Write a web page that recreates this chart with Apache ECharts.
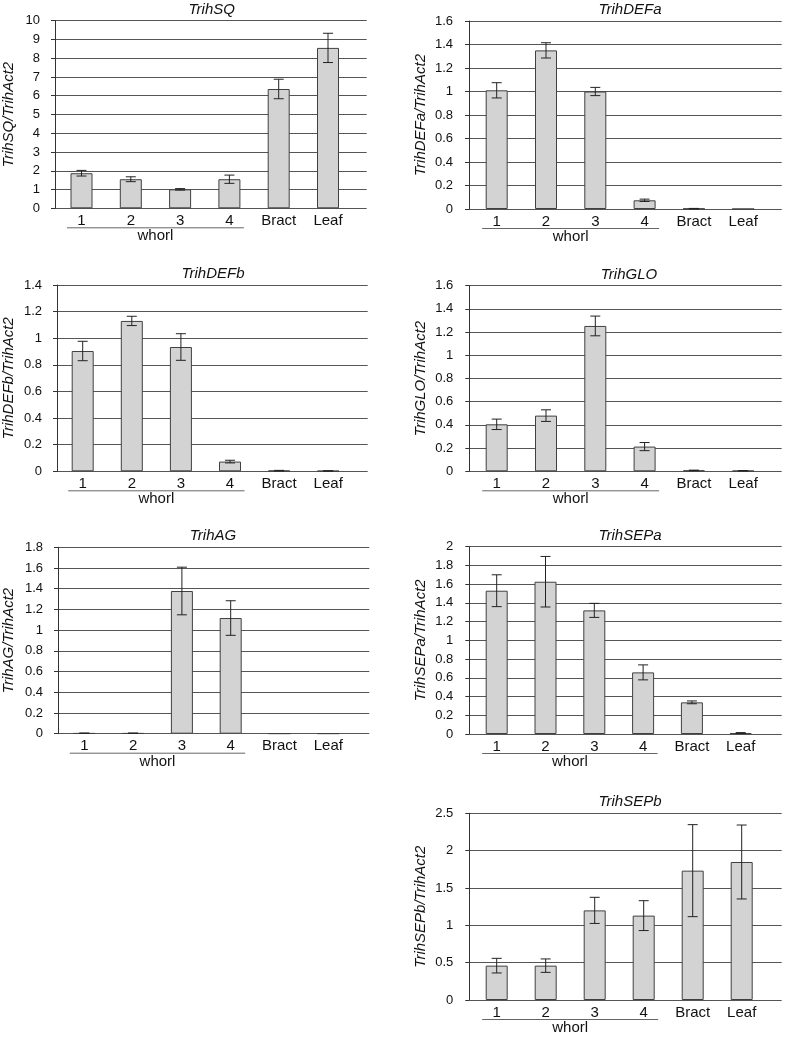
<!DOCTYPE html>
<html><head><meta charset="utf-8">
<script src="https://cdn.jsdelivr.net/npm/echarts@6/dist/echarts.min.js"></script>
<style>html,body{margin:0;padding:0;background:#fff}#c{width:787px;height:1037px}</style>
</head><body><div id="c"></div><script>
// ---------- DATA ----------
const categories = ['1', '2', '3', '4', 'Bract', 'Leaf'];
const genes = ['TrihSQ', 'TrihDEFa', 'TrihDEFb', 'TrihGLO', 'TrihAG', 'TrihSEPa', 'TrihSEPb'];
const groupLabel = 'whorl';
const refGene = 'TrihAct2';

const sqValues    = [1.87, 1.55, 1.01, 1.55, 6.36, 8.55];
const sqErrors    = [0.15, 0.13, 0.04, 0.22, 0.52, 0.78];
const defaValues  = [1.01, 1.35, 1.00, 0.074, 0.003, 0];
const defaErrors  = [0.065, 0.065, 0.035, 0.01, 0.002, 0];
const defbValues  = [0.904, 1.13, 0.934, 0.073, 0.005, 0.003];
const defbErrors  = [0.073, 0.035, 0.10, 0.01, 0.002, 0.001];
const gloValues   = [0.405, 0.48, 1.253, 0.213, 0.008, 0.005];
const gloErrors   = [0.045, 0.05, 0.085, 0.035, 0.002, 0.001];
const agValues    = [0.005, 0.005, 1.378, 1.117, 0.002, 0.002];
const agErrors    = [0.001, 0.001, 0.23, 0.167, 0, 0];
const sepaValues  = [1.53, 1.626, 1.32, 0.658, 0.338, 0.01];
const sepaErrors  = [0.17, 0.27, 0.075, 0.08, 0.015, 0.005];
const sepbValues  = [0.46, 0.46, 1.20, 1.13, 1.732, 1.848];
const sepbErrors  = [0.098, 0.09, 0.175, 0.2, 0.616, 0.495];

const allValues = [sqValues, defaValues, defbValues, gloValues, agValues, sepaValues, sepbValues];
const allErrors = [sqErrors, defaErrors, defbErrors, gloErrors, agErrors, sepaErrors, sepbErrors];
const yMaxes = [10, 1.6, 1.4, 1.6, 1.8, 2, 2.5];
const yIntervals = [1, 0.2, 0.2, 0.2, 0.2, 0.2, 0.5];

// ---------- LAYOUT (pixels) ----------
const layout = [
  {axisX: 53.3, right: 366.7, top: 20.7, zero: 208.3, c0: 81.5, sp: 49.3, lm: 15, ng: 39, tx: 211.7},
  {axisX: 469,  right: 781.7, top: 21,   zero: 209,   c0: 496.7, sp: 49.3, lm: 16, ng: 41, tx: 630},
  {axisX: 55,   right: 367.7, top: 285,  zero: 471.3, c0: 82.7, sp: 49.1, lm: 15, ng: 41, tx: 213},
  {axisX: 469.3,right: 781.7, top: 285.7,zero: 471.3, c0: 496.7, sp: 49.3, lm: 16, ng: 41, tx: 629},
  {axisX: 56,   right: 369.3, top: 547.3,zero: 733.7, c0: 84.3, sp: 48.8, lm: 15, ng: 42, tx: 213},
  {axisX: 469.3,right: 781.7, top: 546.7,zero: 734,   c0: 496.7, sp: 48.8, lm: 16, ng: 41, tx: 630},
  {axisX: 469.3,right: 781.7, top: 813.3,zero: 1000,  c0: 496.7, sp: 49.0, lm: 16, ng: 41, tx: 630}
];
const FONT = '"Liberation Sans", Arial, Helvetica, sans-serif';
const TXT = '#111';

const chart = echarts.init(document.getElementById('c'), null, {renderer: 'canvas'});
const grid = [], xAxis = [], yAxis = [], series = [];

genes.forEach((g, p) => {
  const L = layout[p];
  const a = 2 * p, b = 2 * p + 1;
  grid.push({left: L.axisX, top: L.top, width: L.right - L.axisX, height: L.zero - L.top, containLabel: false});
  grid.push({left: L.c0 - L.sp / 2, top: L.top, width: 6 * L.sp, height: L.zero - L.top, containLabel: false});
  xAxis.push({gridIndex: a, type: 'value', min: 0, max: 1, show: false});
  xAxis.push({gridIndex: b, type: 'category', data: categories,
    axisLine: {show: false}, axisTick: {show: false},
    axisLabel: {margin: 5, fontSize: 15, color: TXT, fontFamily: FONT, interval: 0}});
  yAxis.push({gridIndex: a, type: 'value', min: 0, max: yMaxes[p], interval: yIntervals[p],
    axisLine: {show: true, lineStyle: {color: '#333', width: 1}},
    axisTick: {show: true, length: 4, inside: false, lineStyle: {color: '#333'}},
    axisLabel: {margin: L.lm, fontSize: 13, color: TXT, fontFamily: FONT},
    splitLine: {show: true, lineStyle: {color: '#555', width: 1}},
    name: g + '/' + refGene, nameLocation: 'middle', nameGap: L.ng,
    nameTextStyle: {fontStyle: 'italic', fontSize: 15, color: TXT, fontFamily: FONT}});
  yAxis.push({gridIndex: b, type: 'value', min: 0, max: yMaxes[p], show: false, splitLine: {show: false}});

  series.push({type: 'bar', xAxisIndex: b, yAxisIndex: b, data: allValues[p], barWidth: 22,
    itemStyle: {color: '#d3d3d3', borderColor: '#404040', borderWidth: 1}, silent: true, animation: false});
  series.push({type: 'custom', xAxisIndex: b, yAxisIndex: b, silent: true, animation: false, z: 5,
    data: allValues[p].map((v, i) => [i, v, allErrors[p][i]]),
    renderItem: (params, api) => {
      const x = api.value(0), v = api.value(1), e = api.value(2);
      if (!e) return null;
      const hi = api.coord([x, v + e]);
      const lo = api.coord([x, Math.max(0, v - e)]);
      const cw = 5;
      const st = {stroke: '#222', lineWidth: 1};
      return {type: 'group', children: [
        {type: 'line', shape: {x1: hi[0], y1: hi[1], x2: lo[0], y2: lo[1]}, style: st},
        {type: 'line', shape: {x1: hi[0] - cw, y1: hi[1], x2: hi[0] + cw, y2: hi[1]}, style: st},
        {type: 'line', shape: {x1: lo[0] - cw, y1: lo[1], x2: lo[0] + cw, y2: lo[1]}, style: st}
      ]};
    }});
});

chart.setOption({animation: false, grid, xAxis, yAxis, series});

// annotations computed through the library's scales
const graphic = [];
genes.forEach((g, p) => {
  const L = layout[p];
  const b = 2 * p + 1;
  const x1 = chart.convertToPixel({xAxisIndex: b}, categories[0]);
  const x4 = chart.convertToPixel({xAxisIndex: b}, categories[3]);
  const y0 = chart.convertToPixel({yAxisIndex: b}, 0);
  const yTop = chart.convertToPixel({yAxisIndex: b}, yMaxes[p]);
  graphic.push({type: 'line', shape: {x1: x1 - 14.5, y1: y0 + 19.5, x2: x4 + 14.5, y2: y0 + 19.5},
    style: {stroke: '#666', lineWidth: 1}, silent: true});
  graphic.push({type: 'text', x: (x1 + x4) / 2, y: y0 + 28,
    style: {text: groupLabel, fill: TXT, font: '15px ' + FONT, textAlign: 'center', textVerticalAlign: 'middle'}, silent: true});
  graphic.push({type: 'text', x: L.tx, y: yTop - 11,
    style: {text: g, fill: TXT, font: 'italic 15px ' + FONT, textAlign: 'center', textVerticalAlign: 'middle'}, silent: true});
});
chart.setOption({graphic});
</script></body></html>
